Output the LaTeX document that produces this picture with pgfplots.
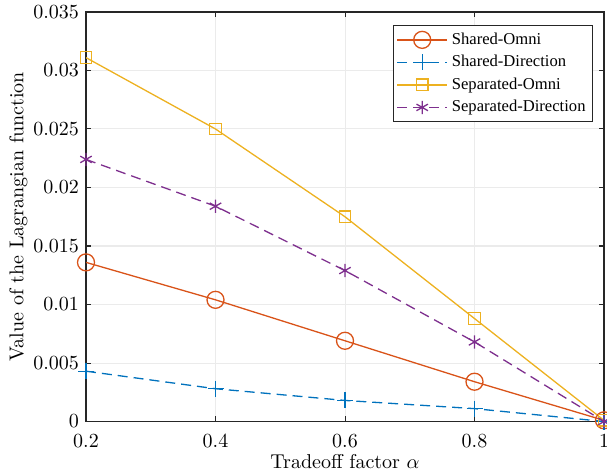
\documentclass[border=0pt]{standalone}
\usepackage{pgfplots}
\pgfplotsset{compat=1.18}
\usepackage{fontspec}
\newfontfamily\legfont{Liberation Serif}
\definecolor{c1}{rgb}{0.85,0.325,0.098}
\definecolor{c2}{rgb}{0,0.447,0.741}
\definecolor{c3}{rgb}{0.929,0.694,0.125}
\definecolor{c4}{rgb}{0.494,0.184,0.556}
\begin{document}
\begin{tikzpicture}
\begin{axis}[
  scale only axis,
  width=259pt, height=204.75pt,
  xmin=0.2, xmax=1, ymin=0, ymax=0.035,
  xtick={0.2,0.4,0.6,0.8,1},
  ytick={0,0.005,0.01,0.015,0.02,0.025,0.03,0.035},
  scaled y ticks=false,
  yticklabel style={/pgf/number format/fixed,/pgf/number format/precision=3},
  xticklabel style={/pgf/number format/fixed, yshift=-3pt},
  tick align=inside,
  tick pos=both,
  major tick length=2.7pt,
  grid=major,
  grid style={gray!16, line width=0.5pt},
  axis line style={black!85, line width=0.55pt},
  tick style={black!85, line width=0.5pt},
  xlabel={Tradeoff factor $\alpha$},
  ylabel={Value of the Lagrangian function},
  xlabel style={at={([yshift=-23.25pt]axis description cs:0.5,0)}, anchor=base},
  ylabel style={at={([xshift=-25.7pt]axis description cs:0,0.5)}, anchor=south},
  legend style={at={(0.9788,0.968)}, anchor=north east,
    font=\legfont\fontsize{8.3}{10}\selectfont,
    draw=black!85, line width=0.5pt, row sep=0pt, inner sep=1.5pt, cells={anchor=west}},
  legend image code/.code={
    \draw[mark repeat=2,mark phase=2,#1] plot coordinates {(0pt,0pt) (12.5pt,0pt) (25pt,0pt)};},
]
\addplot[c1, line width=0.65pt, mark=o, mark size=4.25pt, mark options={solid}]
  coordinates {(0.2,0.0136) (0.4,0.0104) (0.6,0.0069) (0.8,0.0034) (1,0.0001)};
\addlegendentry{Shared-Omni}
\addplot[c2, line width=0.65pt, dash pattern=on 5pt off 3pt, mark=+, mark size=4pt, mark options={solid}]
  coordinates {(0.2,0.0043) (0.4,0.0028) (0.6,0.0018) (0.8,0.0011) (1,0.0)};
\addlegendentry{Shared-Direction}
\addplot[c3, line width=0.65pt, mark=square, mark size=2.9pt, mark options={solid}]
  coordinates {(0.2,0.0311) (0.4,0.0250) (0.6,0.0175) (0.8,0.0088) (1,0.0001)};
\addlegendentry{Separated-Omni}
\addplot[c4, line width=0.65pt, dash pattern=on 5pt off 3pt, mark=asterisk, mark size=3.3pt, mark options={solid}]
  coordinates {(0.2,0.0224) (0.4,0.0184) (0.6,0.0129) (0.8,0.0068) (1,0.0)};
\addlegendentry{Separated-Direction}
\end{axis}
\pgfresetboundingbox
\path[use as bounding box] ([shift={(-43pt,-26.75pt)}]current axis.south west) rectangle ([shift={(1.5pt,6pt)}]current axis.north east);
\end{tikzpicture}
\end{document}
